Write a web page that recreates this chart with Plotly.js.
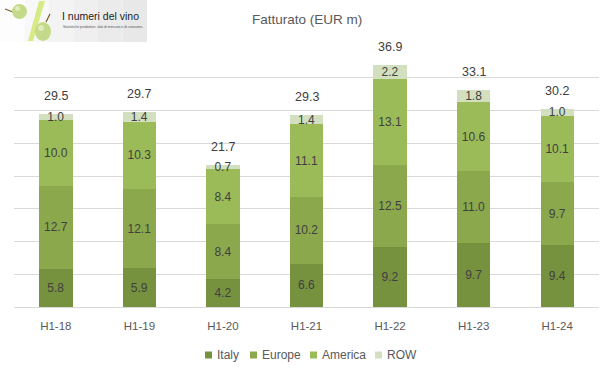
<!DOCTYPE html>
<html>
<head>
<meta charset="utf-8">
<script src="https://cdn.plot.ly/plotly-3.0.1.min.js"></script>
<style>html,body{margin:0;padding:0;background:#fff;}#chart{width:614px;height:375px;}</style>
</head>
<body>
<div id="chart"></div>
<script>
const categories = ["H1-18","H1-19","H1-20","H1-21","H1-22","H1-23","H1-24"];
const italy   = [5.8, 5.9, 4.2, 6.6, 9.2, 9.7, 9.4];
const europe  = [12.7, 12.1, 8.4, 10.2, 12.5, 11.0, 9.7];
const america = [10.0, 10.3, 8.4, 11.1, 13.1, 10.6, 10.1];
const row     = [1.0, 1.4, 0.7, 1.4, 2.2, 1.8, 1.0];
const totals  = [29.5, 29.7, 21.7, 29.3, 36.9, 33.1, 30.2];
const seriesNames = ["Italy","Europe","America","ROW"];

const colors = {Italy:"#77923F", Europe:"#8BA84D", America:"#9BBB59", ROW:"#D3E0BF"};
const FONT = "Liberation Sans, Arial, sans-serif";

function barTrace(name, vals){
  return {
    type:"bar", name:name, x:categories, y:vals,
    marker:{color:colors[name], line:{width:0}},
    text: vals.map(v=>v.toFixed(1)),
    textposition:"inside", insidetextanchor:"middle",
    textangle:0, constraintext:"none",
    textfont:{family:FONT, size:12, color:"#404040"},
    hoverinfo:"skip", cliponaxis:false, showlegend:false
  };
}
const data = [barTrace("Italy",italy), barTrace("Europe",europe), barTrace("America",america), barTrace("ROW",row)];

// pixel -> paper helpers
const L=14, R=599, T=45, B=307;
const px = x => (x-L)/(R-L);
const py = y => (B-y)/(B-T);

const annotations = categories.map((c,i)=>({
  x:c, y:totals[i], xref:"x", yref:"y", text:totals[i].toFixed(1),
  showarrow:false, yanchor:"bottom", yshift:9,
  font:{family:FONT, size:12.5, color:"#404040"}
}));
annotations.push({
  x:px(307), y:py(20), xref:"paper", yref:"paper", text:"Fatturato (EUR m)",
  showarrow:false, xanchor:"center", yanchor:"middle",
  font:{family:FONT, size:13.5, color:"#595959"}
});
annotations.push({
  x:px(60), y:py(16), xref:"paper", yref:"paper", text:"I numeri del vino",
  showarrow:false, xanchor:"left", yanchor:"middle",
  font:{family:FONT, size:10.5, color:"#222"}
});
annotations.push({
  x:px(61), y:py(27), xref:"paper", yref:"paper", text:"Statistiche produttive, dati di mercato e di consumo.",
  showarrow:false, xanchor:"left", yanchor:"middle",
  font:{family:FONT, size:3.5, color:"#555"}
});

const shapes = [];
// logo background (stepped gradient)
const steps = ["#FDFDFD","#F8F8F8","#F3F3F3","#EFEFEF","#EBEBEB","#E8E8E8"];
steps.forEach((c,k)=>{
  shapes.push({type:"rect", xref:"paper", yref:"paper", x0:px(k*24.5), x1:px((k+1)*24.5), y0:py(42), y1:py(0),
    fillcolor:c, line:{width:0}, layer:"below"});
});
// percent bar
shapes.push({type:"path", xref:"paper", yref:"paper",
  path:`M ${px(39)},${py(1)} L ${px(45)},${py(1)} L ${px(33)},${py(41)} L ${px(28)},${py(41)} Z`,
  fillcolor:"#D6EA85", line:{width:0}, layer:"above"});
// stems
shapes.push({type:"line", xref:"paper", yref:"paper", x0:px(5), y0:py(9), x1:px(13), y1:py(12), line:{color:"#7A5A2A", width:1.2}});
shapes.push({type:"line", xref:"paper", yref:"paper", x0:px(46), y0:py(22), x1:px(50), y1:py(14), line:{color:"#7A5A2A", width:1.2}});
// grapes
shapes.push({type:"circle", xref:"paper", yref:"paper", x0:px(12), x1:px(27), y0:py(19), y1:py(4), fillcolor:"#C5D98A", line:{width:0}});
shapes.push({type:"circle", xref:"paper", yref:"paper", x0:px(35), x1:px(51), y0:py(41), y1:py(22), fillcolor:"#C5D98A", line:{width:0}});
shapes.push({type:"circle", xref:"paper", yref:"paper", x0:px(15), x1:px(20), y0:py(11), y1:py(6), fillcolor:"#E0ECB5", line:{width:0}});
shapes.push({type:"circle", xref:"paper", yref:"paper", x0:px(38), x1:px(44), y0:py(31), y1:py(25), fillcolor:"#E0ECB5", line:{width:0}});

// custom legend
const legendSquareX = [205, 250, 310, 375];
seriesNames.forEach((n,k)=>{
  const x0 = legendSquareX[k];
  shapes.push({type:"rect", xref:"paper", yref:"paper", x0:px(x0), x1:px(x0+7), y0:py(358.5), y1:py(351.5),
    fillcolor:colors[n], line:{width:0}});
  annotations.push({x:px(x0+10), y:py(355), xref:"paper", yref:"paper", text:n, showarrow:false,
    xanchor:"left", yanchor:"middle", font:{family:FONT, size:12, color:"#595959"}});
});

const layout = {
  width:614, height:375,
  margin:{l:L, r:614-R, t:T, b:375-B, pad:0},
  paper_bgcolor:"#fff", plot_bgcolor:"#fff",
  barmode:"stack", bargap:0.6,
  font:{family:FONT, color:"#595959"},
  showlegend:false,
  xaxis:{type:"category", showgrid:false, showline:true, linecolor:"#D9D9D9", linewidth:1, automargin:false,
    ticks:"", tickfont:{family:FONT, size:11.5, color:"#595959"}, ticklabelstandoff:8, zeroline:false},
  yaxis:{range:[0,40], dtick:5, showgrid:true, gridcolor:"#D9D9D9", gridwidth:1, automargin:false,
    showticklabels:false, zeroline:false, showline:false, ticks:""},
  annotations:annotations,
  shapes:shapes
};

Plotly.newPlot("chart", data, layout, {staticPlot:true, displayModeBar:false});
</script>
</body>
</html>
